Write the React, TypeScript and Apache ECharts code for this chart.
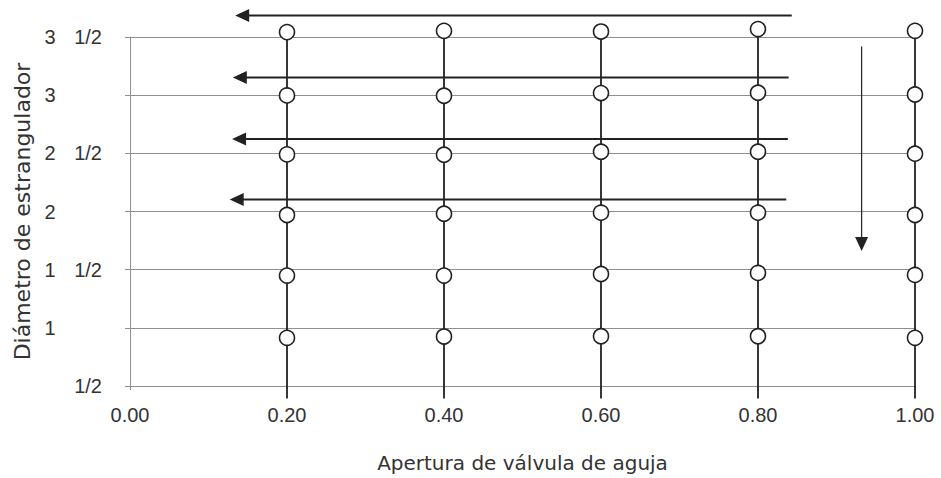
import React, { useEffect, useRef } from 'react';
import * as echarts from 'echarts';

// X positions of the measurement columns (needle valve opening)
const xColumns = [0.2, 0.4, 0.6, 0.8, 1.0];
// Circle positions (choke diameter) per column
const circlesCol020 = [0.914, 1.449, 1.970, 2.491, 2.998, 3.542];
const circlesCol040 = [0.925, 1.449, 1.981, 2.488, 2.995, 3.553];
const circlesCol060 = [0.928, 1.463, 1.990, 2.514, 3.018, 3.547];
const circlesCol080 = [0.928, 1.472, 1.990, 2.514, 3.021, 3.568];
const circlesCol100 = [0.914, 1.455, 1.970, 2.497, 3.006, 3.553];
const circleColumns = [circlesCol020, circlesCol040, circlesCol060, circlesCol080, circlesCol100];
const stemBottom = 0.393;

// Axis ticks
const yTickValues = [0.5, 1, 1.5, 2, 2.5, 3, 3.5];
const yTickWhole = ['', '1', '1', '2', '2', '3', '3'];
const yTickFrac = ['1/2', '', '1/2', '', '1/2', '', '1/2'];

// Left-pointing arrows (start x, tip x, y)
const arrowStartX = [0.843, 0.839, 0.838, 0.836];
const arrowEndX = [0.134, 0.131, 0.130, 0.127];
const arrowY = [3.684, 3.152, 2.624, 2.104];
// Down-pointing arrow
const downArrowX = 0.932;
const downArrowStartY = 3.418;
const downArrowEndY = 1.66;

const xName = 'Apertura de válvula de aguja';
const yName = 'Diámetro de estrangulador';

const DARK = '#222';
const GRID = '#8f8f8f';
const TEXT = '#333';
const LABEL_FONT = '"Liberation Sans", Arial, sans-serif';
const NAME_FONT = '"DejaVu Sans", sans-serif';

export default function App() {
  const ref = useRef<HTMLDivElement>(null);

  useEffect(() => {
    if (!ref.current) return;
    const chart = echarts.init(ref.current, undefined, { renderer: 'svg' });

    const columnSeries = xColumns.map((x, ci) => ({
      type: 'line',
      clip: false,
      silent: true,
      z: 3,
      symbol: 'circle',
      symbolSize: 15,
      showSymbol: true,
      itemStyle: { color: '#fff', borderColor: DARK, borderWidth: 1.6 },
      lineStyle: { color: DARK, width: 1.8 },
      data: [
        { value: [x, stemBottom], symbol: 'none' },
        ...circleColumns[ci].map((y) => [x, y]),
      ],
    }));

    const arrowData: number[][] = arrowY.map((y, i) => [arrowStartX[i], y, arrowEndX[i], y, 2]);
    arrowData.push([downArrowX, downArrowStartY, downArrowX, downArrowEndY, 1.2]);

    const option: any = {
      animation: false,
      grid: { left: 130, right: 26, top: 37, bottom: 86 },
      xAxis: {
        type: 'value',
        min: 0,
        max: 1,
        interval: 0.2,
        axisLine: { show: true, onZero: false, lineStyle: { color: GRID, width: 1 } },
        axisTick: { show: true, length: 4, lineStyle: { color: GRID } },
        splitLine: { show: false },
        axisLabel: {
          formatter: (v: number) => v.toFixed(2),
          fontSize: 20,
          color: TEXT,
          margin: 19,
          fontFamily: LABEL_FONT,
        },
        name: xName,
        nameLocation: 'middle',
        nameGap: 67,
        nameTextStyle: { fontSize: 20, fontFamily: NAME_FONT, color: TEXT },
      },
      yAxis: {
        type: 'value',
        min: 0.5,
        max: 3.5,
        interval: 0.5,
        axisLine: { show: true, lineStyle: { color: GRID, width: 1 } },
        axisTick: { show: true, length: 5, lineStyle: { color: GRID } },
        splitLine: { show: true, lineStyle: { color: GRID, width: 1 } },
        axisLabel: {
          margin: 28,
          color: TEXT,
          fontSize: 20,
          fontFamily: LABEL_FONT,
          formatter: (v: number) => {
            const i = yTickValues.findIndex((t) => Math.abs(t - v) < 1e-6);
            if (i < 0) return '';
            const w = yTickWhole[i];
            const f = yTickFrac[i];
            if (!w) return `{b|${f}}`;
            return `{a|${w}}{b|${f || ' '}}`;
          },
          rich: {
            a: { width: 44, align: 'center', fontSize: 20, color: TEXT, fontFamily: LABEL_FONT },
            b: { width: 30, align: 'right', fontSize: 20, color: TEXT, fontFamily: LABEL_FONT },
          },
        },
        name: yName,
        nameLocation: 'middle',
        nameGap: 92,
        nameTextStyle: { fontSize: 22, fontFamily: NAME_FONT, color: TEXT },
      },
      series: [
        ...columnSeries,
        {
          type: 'custom',
          silent: true,
          clip: false,
          z: 4,
          data: arrowData,
          renderItem: (params: any, api: any) => {
            const p1 = api.coord([api.value(0), api.value(1)]);
            const p2 = api.coord([api.value(2), api.value(3)]);
            const lw = api.value(4);
            const dx = p2[0] - p1[0];
            const dy = p2[1] - p1[1];
            const len = Math.sqrt(dx * dx + dy * dy) || 1;
            const ux = dx / len;
            const uy = dy / len;
            const headLen = 14;
            const headHalf = 6.5;
            const bx = p2[0] - ux * headLen;
            const by = p2[1] - uy * headLen;
            const nx = -uy;
            const ny = ux;
            return {
              type: 'group',
              children: [
                {
                  type: 'line',
                  shape: { x1: p1[0], y1: p1[1], x2: bx + ux * 1, y2: by + uy * 1 },
                  style: { stroke: DARK, lineWidth: lw },
                },
                {
                  type: 'polygon',
                  shape: {
                    points: [
                      [p2[0], p2[1]],
                      [bx + nx * headHalf, by + ny * headHalf],
                      [bx - nx * headHalf, by - ny * headHalf],
                    ],
                  },
                  style: { fill: DARK },
                },
              ],
            };
          },
        },
      ],
    };

    chart.setOption(option);
    return () => chart.dispose();
  }, []);

  return (
    <div
      ref={ref}
      style={{ position: 'fixed', left: 0, top: 0, width: 941, height: 478, background: '#fff' }}
    />
  );
}
